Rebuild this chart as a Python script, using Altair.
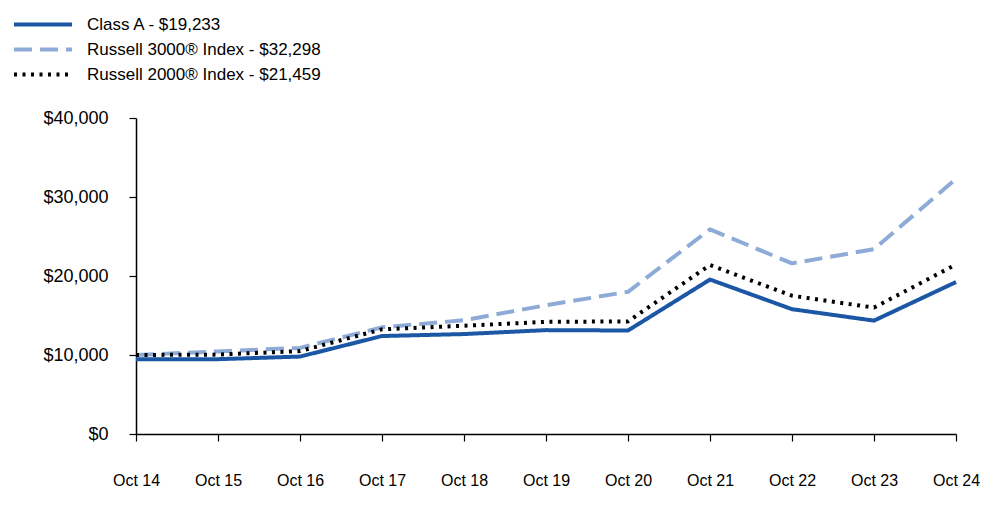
import altair as alt
import pandas as pd

periods = ["Oct 14", "Oct 15", "Oct 16", "Oct 17", "Oct 18", "Oct 19",
           "Oct 20", "Oct 21", "Oct 22", "Oct 23", "Oct 24"]
class_a = [9450, 9470, 9800, 12400, 12650, 13150, 13100, 19550, 15800, 14350, 19233]
russell_3000 = [10000, 10450, 10900, 13500, 14400, 16300, 18000, 25900, 21600, 23400, 32298]
russell_2000 = [10000, 10050, 10500, 13250, 13700, 14200, 14250, 21400, 17500, 16000, 21459]

series_names = ["Class A - $19,233",
                "Russell 3000® Index - $32,298",
                "Russell 2000® Index - $21,459"]
series_values = [class_a, russell_3000, russell_2000]
series_colors = ["#1c57a5", "#8eabd7", "#000000"]
series_dash = [[1, 0], [18, 8], [3, 5.5]]
series_width = [4, 4, 1.8]
draw_order = [2, 1, 0]

rows = []
for k, (name, vals) in enumerate(zip(series_names, series_values)):
    for p, v in zip(periods, vals):
        rows.append({"period": p, "value": v, "series": name, "order": draw_order[k]})
df = pd.DataFrame(rows)

FONT = "Liberation Sans"

chart = alt.Chart(df).mark_line(strokeCap="butt", strokeJoin="round").encode(
    x=alt.X("period:O", sort=periods,
            scale=alt.Scale(type="point", padding=0),
            axis=alt.Axis(title=None, labelAngle=0, labelFontSize=16,
                          labelPadding=31, tickSize=7, tickColor="#000000",
                          domainColor="#000000", domainWidth=1.5, tickWidth=1.2,
                          labelColor="#000000", labelFont=FONT, grid=False)),
    y=alt.Y("value:Q",
            scale=alt.Scale(domain=[0, 40000], nice=False),
            axis=alt.Axis(title=None, values=[0, 10000, 20000, 30000, 40000],
                          format="$,.0f", labelFontSize=18, labelPadding=21,
                          tickSize=7, tickColor="#000000", domainColor="#000000",
                          domainWidth=1.5, tickWidth=1.2, labelColor="#000000",
                          labelFont=FONT, grid=False)),
    color=alt.Color("series:N", sort=series_names,
                    scale=alt.Scale(domain=series_names, range=series_colors),
                    legend=alt.Legend(title=None, orient="none", legendX=-124,
                                      legendY=-106, symbolType="stroke",
                                      symbolSize=3364, labelFontSize=17,
                                      labelFont=FONT, labelColor="#000000",
                                      labelOffset=13, rowPadding=0,
                                      clipHeight=25, labelLimit=0)),
    strokeDash=alt.StrokeDash("series:N", sort=series_names,
                              scale=alt.Scale(domain=series_names, range=series_dash)),
    strokeWidth=alt.StrokeWidth("series:N", sort=series_names,
                                scale=alt.Scale(domain=series_names, range=series_width)),
    order=alt.Order("order:Q"),
).properties(
    width=820, height=316,
    autosize=alt.AutoSizeParams(type="none"),
    padding={"left": 128, "top": 110, "right": 36, "bottom": 81},
).configure_view(stroke=None)

chart.save("out.html", embed_options={"renderer": "svg", "actions": False})
